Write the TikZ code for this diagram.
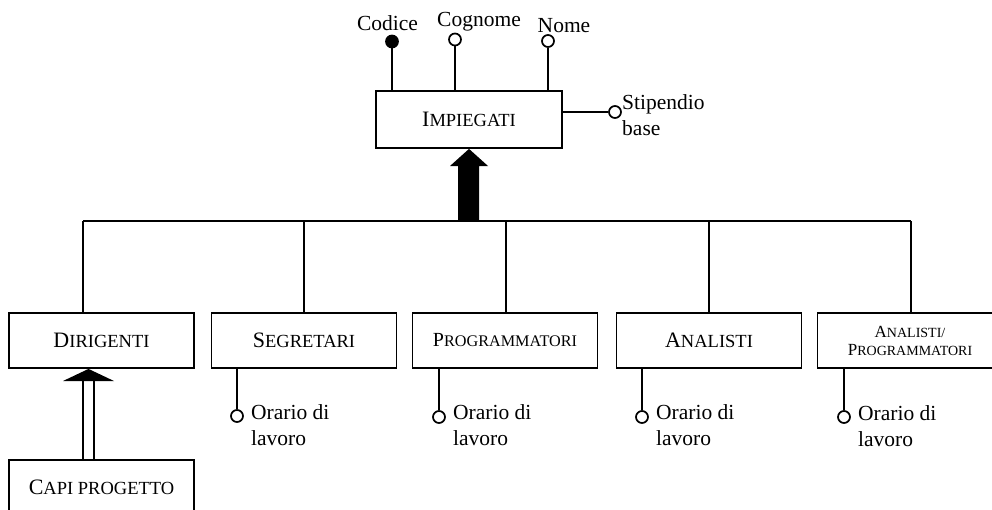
\documentclass[tikz,border=0pt]{standalone}
\usepackage{fontspec}
\setmainfont{Liberation Serif}
\newcommand\fsc[4]{{\fontsize{#1}{#1}\selectfont #3}{\fontsize{#2}{#2}\selectfont #4}}
\begin{document}
\begin{tikzpicture}[x=1pt,y=-1pt,
  ent/.style={draw, line width=1.8, minimum width=185, minimum height=55, inner sep=0},
  attrc/.style={circle, draw, fill=white, minimum size=12, inner sep=0, line width=1.7},
  keyc/.style={attrc, fill=black},
  lbl/.style={font=\fontsize{21.5}{26}\selectfont, align=left, inner sep=0},
  ln/.style={line width=1.7}]
\clip (0,0) rectangle (992,509);
\fill[white] (0,0) rectangle (992,509);
% entities
\node[ent, minimum width=186, minimum height=57] (imp) at (469,119.5) {\fsc{22}{18.5}{I}{MPIEGATI}};
\node[ent] (dir) at (101.5,340.5) {\fsc{22}{18.5}{D}{IRIGENTI}};
\node[ent] (seg) at (304,340.5) {\fsc{22}{18.5}{S}{EGRETARI}};
\node[ent] (prog) at (505,340.5) {\fsc{20}{16.2}{P}{ROGRAMMATORI}};
\node[ent] (ana) at (709,340.5) {\fsc{22}{18.5}{A}{NALISTI}};
\node[ent, align=center] (anp) at (910,340.5) {\fsc{17}{14}{A}{NALISTI/}\\[6pt]\fsc{17}{14}{P}{ROGRAMMATORI}};
\node[ent] (capi) at (101.5,487.5) {\fsc{22}{18.5}{C}{API PROGETTO}};
% attributes of IMPIEGATI
\node[keyc] (cod) at (392,41.5) {};
\node[attrc] (cog) at (455,39.5) {};
\node[attrc] (nom) at (548,41) {};
\node[attrc] (sti) at (615,112) {};
\node[lbl] (codl) at (387.5,23) {Codice};
\node[lbl] (cogl) at (479,22) {Cognome};
\node[lbl] (noml) at (564,26) {Nome};
\node[lbl, anchor=west] (stil) at (622,115) {Stipendio\\base};
\draw[ln] (cod) -- (cod |- imp.north);
\draw[ln] (cog) -- (cog |- imp.north);
\draw[ln] (nom) -- (nom |- imp.north);
\draw[ln] (sti) -- (sti -| imp.east);
% generalization bar
\coordinate (b1) at (83,221);
\coordinate (b2) at (304,221);
\coordinate (b3) at (506,221);
\coordinate (b4) at (709,221);
\coordinate (b5) at (911,221);
\draw[ln] (b1) -- (b5);
\draw[ln] (b1) -- (b1 |- dir.north);
\draw[ln] (b2) -- (b2 |- seg.north);
\draw[ln] (b3) -- (b3 |- prog.north);
\draw[ln] (b4) -- (b4 |- ana.north);
\draw[ln] (b5) -- (b5 |- anp.north);
% big arrow
\fill (458,221) -- (458,166) -- (450,166) -- (imp.south) -- (488,166) -- (479,166) -- (479,221) -- cycle;
% Orario di lavoro attributes
\node[attrc] (oseg) at (237,416) {};
\node[attrc] (oprog) at (439,417) {};
\node[attrc] (oana) at (642,417) {};
\node[attrc] (oanp) at (844,417) {};
\draw[ln] (oseg) -- (oseg |- seg.south);
\draw[ln] (oprog) -- (oprog |- prog.south);
\draw[ln] (oana) -- (oana |- ana.south);
\draw[ln] (oanp) -- (oanp |- anp.south);
\node[lbl, anchor=west] (lseg) at (251,425) {Orario di\\lavoro};
\node[lbl, anchor=west] (lprog) at (453,425) {Orario di\\lavoro};
\node[lbl, anchor=west] (lana) at (656,425) {Orario di\\lavoro};
\node[lbl, anchor=west] (lanp) at (858,426) {Orario di\\lavoro};
% DIRIGENTI <- CAPI PROGETTO
\coordinate (dc) at (88.5,0);
\draw[line width=1.6, double, double distance=9.5] (dc |- capi.north) -- (88.5,381);
\fill (dc |- dir.south) -- (63,381) -- (114,381) -- cycle;
\end{tikzpicture}
\end{document}
